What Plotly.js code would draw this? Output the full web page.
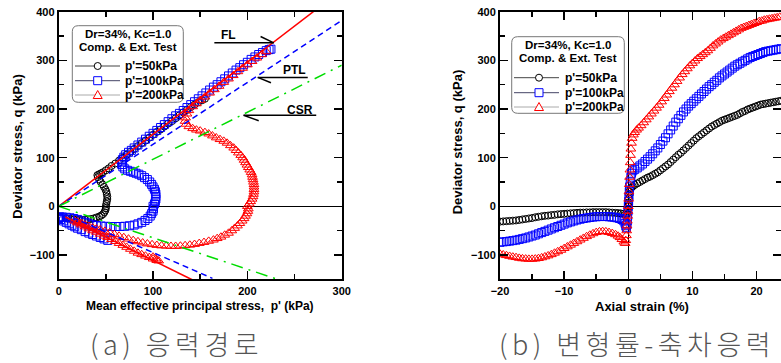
<!DOCTYPE html>
<html><head><meta charset="utf-8">
<script src="https://cdn.plot.ly/plotly-3.0.1.min.js"></script>
<style>html,body{margin:0;padding:0;background:#fff}#chart{width:781px;height:363px}</style>
</head><body><div id="chart"></div>
<script>
// ---------- (a) stress path : mean effective stress p' vs deviator stress q ----------
const p50 = [50,50.5,51,51.5,51.5,51,50.5,49.5,48,46.5, 44.5,43,41.5,41,43,45,47,50,53,56, 60,64,68,72,76,80,84,88,92,96, 100,104,108,112,116,120,124,128,132,136, 140,144,148,152,155,
  50,49.5,48.5,47,45,43,40,37,34,31, 28,25,22,19,16,13,10,8];
const q50 = [0,5,10,15,20,25,30,35,40,45, 50,55,60,64,66,68,70,74,78,83, 88,94,100,106,112,118,124,130,135,141, 147,153,158,164,170,175,181,187,193,198, 204,209,214,218,221,
  -4,-8,-12,-16,-19,-21,-23,-25,-26,-27, -27.5,-28,-28,-27.5,-27,-26,-25,-24.5];

const p100 = [100,101.5,102.5,103,103,103,102.5,101.5,100,98.5, 96.5,94,91,88,85,82,79,76,73,70, 68,67,67,67.5,69,71,74,77,80,84, 88,92,96,100,104,108,112,116,120,124, 128,132,136,140,144,148,152,156,160,164, 168,172,176,180,184,188,192,196,200,204, 208,212,216,220,223,225,
  100.5,100,98.5,97,94.5,91.5,88,84,80,75, 70,65,60,55,50,45,40,36,32,28, 24,20,16,12,8,4,1,0,0,2, 5,8,11,14,17,20,24,28,32,36, 40,44,48,52];
const q100 = [0,5,10,15,20,25,30,35,40,45, 50,55,59,63,66,68,70,72,74,77, 81,86,91,96,101,106,111,115,120,126, 132,138,144,150,156,162,168,174,180,186, 191,197,203,209,215,221,227,233,239,245, 250,256,262,268,274,280,285,291,296,302, 307,312,316,320,322,323,
  -5,-10,-15,-20,-25,-29,-33,-36,-38.5,-40, -41,-41.5,-41.5,-41.5,-41,-40.5,-39.5,-38,-36,-33, -30,-27,-25,-23.5,-22.5,-22,-21.5,-23,-25,-27, -30,-33,-36,-39,-42,-45,-48,-52,-55,-58, -61,-64,-67,-70];

const p200 = [200,202,203.5,205,206,206.5,207,207,207,207, 206.5,206,205.5,205,204,202.5,201,199.5,198,196.5, 195,193,190.5,188,185.5,182,178.5,175,171,167, 163,159,155,150,146,142,138,135,134,134.5, 136,138,142,146,150,155,160,165,170,175, 180,185,190,195,200,205,210,215,220,
  201,200.5,199.5,198,196.5,194.5,192,189.5,186.5,183.5, 180,176,172,168,164,159,154,149,144,139, 134,129,124,119,114,109,104,99,94,89, 84,79,74,69,64,59,54,49,44,40, 36,32,28,24,20,17,20,24,28,32, 36,40,44,48,52,56,60,64,68,72, 76,80,84,88,92,96,100,104,106,103, 100];
const q200 = [0,5,10,15,20,25,30,35,40,45, 50,55,60,65,70,75,80,85,90,95, 100,105,110,115,120,125,130,134,137.5,141, 145,149,152,155,157,160,164,169,175,182, 190,197,205,211,218,225,233,240,247,255, 262,269,277,284,291,298,305,312,318,
  -5,-10,-15,-20,-25,-30,-35,-40,-45,-50, -55,-59,-63,-66,-69,-71.5,-74,-76,-78,-79.5, -80.5,-81.5,-82,-82,-81.5,-81,-80,-78.5,-77,-75, -72.5,-70,-67,-64,-61,-57.5,-54,-51,-48,-46, -44,-41,-38,-35,-32,-30,-34,-38,-42,-46, -50,-53,-57,-61,-64,-68,-72,-76,-80,-84, -88,-92,-96,-99,-102,-105,-108,-111,-112,-108, -104];

// reference lines (compression branch / extension branch)
const flCompP = [0,270],  flCompQ = [0,400];
const flExtP  = [7,141.5], flExtQ = [-22,-151];
const ptlCompP = [0,300], ptlCompQ = [0,382];
const ptlExtP  = [5,163], ptlExtQ = [-15,-148];
const csrCompP = [0,300], csrCompQ = [0,290];
const csrExtP  = [0,232], csrExtQ = [0,-150];

// ---------- (b) axial strain vs deviator stress ----------
const eps50 = [0,0.05,0.1,0.15,0.2,0.3,0.45,0.7,1.0,1.4, 1.8,2.2,2.6,3.0,3.4,3.8,4.2,4.6,5.0,5.4, 5.8,6.2,6.6,7.0,7.4,7.8,8.2,8.6,9.0,9.4, 9.8,10.2,10.6,11.0,11.4,11.8,12.2,12.6,13.0,13.4, 13.8,14.2,14.6,15.0,15.4,15.8,16.2,16.6,17.0,17.4, 17.8,18.2,18.6,19.0,19.4,19.8,20.2,20.6,21.0,21.4, 21.8,22.2,22.6,23.0,23.4,23.8,
  -0.05,-0.1,-0.2,-0.3,-0.5,-0.8,-1.2,-1.6,-2.0,-2.5, -3,-3.5,-4,-4.5,-5,-5.5,-6,-6.5,-7,-7.5, -8,-8.5,-9,-9.5,-10,-10.5,-11,-11.5,-12,-12.5, -13,-13.5,-14,-14.5,-15,-15.5,-16,-16.5,-17,-17.5, -18,-18.5,-19,-19.5,-20];
const dev50 = [0,8,16,24,30,35,38,41,44,47, 50,53,56,59,61,64,67,70,74,78, 82,86,91,96,101,106,110,115,120,125, 130,135,140,144,148,152,156,160,164,167, 170,173,176,178,180,182,184,186,188,191, 194,196,199,201,203,205,207,209,210,211, 212,213,214,215,216,217,
  -5,-10,-15,-18,-17,-15.5,-14.5,-14,-13.5,-13, -12.5,-12,-12,-12,-12,-12,-12.5,-12.5,-13,-13, -13.5,-14,-14.5,-15,-15.5,-16,-16.5,-17.5,-18,-19, -19.5,-20.5,-21.5,-22.5,-24,-25,-26,-27,-28,-29, -29.5,-30,-30.5,-31,-31.5];

const eps100 = [0,0.05,0.1,0.15,0.2,0.3,0.4,0.5,0.7,1.0, 1.4,1.8,2.2,2.6,3.0,3.4,3.8,4.2,4.6,5.0, 5.4,5.8,6.2,6.6,7.0,7.4,7.8,8.2,8.6,9.0, 9.4,9.8,10.2,10.6,11.0,11.4,11.8,12.2,12.6,13.0, 13.4,13.8,14.2,14.6,15.0,15.4,15.8,16.2,16.6,17.0, 17.4,17.8,18.2,18.6,19.0,19.4,19.8,20.2,20.6,21.0, 21.4,21.8,22.2,22.6,23.0,23.4,23.8,
  -0.05,-0.1,-0.15,-0.2,-0.3,-0.4,-0.5,-0.7,-1.0,-1.4, -1.8,-2.2,-2.6,-3.0,-3.5,-4,-4.5,-5,-5.5,-6, -6.5,-7,-7.5,-8,-8.5,-9,-9.5,-10,-10.5,-11, -11.5,-12,-12.5,-13,-13.5,-14,-14.5,-15,-15.5,-16, -16.5,-17,-17.5,-18,-18.5,-19,-19.5,-20];
const dev100 = [0,10,20,30,40,50,60,68,73,76, 79,83,87,92,97,102,108,114,120,127, 134,141,149,157,165,173,180,187,194,200, 206,211,216,221,226,231,236,241,246,250, 255,259,264,268,272,276,280,284,288,291, 294,297,300,303,306,308,310,312,314,316, 318,319,320,321,322,323,324,
  -10,-20,-30,-38,-44,-40,-35,-30,-27,-25, -23.5,-22.5,-22,-21.5,-21,-21,-21,-21.5,-22,-23, -24,-25,-26.5,-28,-30,-32,-34,-36.5,-39,-41.5, -44,-46.5,-49,-51.5,-54,-56.5,-59,-61,-63,-65, -66.5,-68,-69.5,-70.5,-71.5,-72.5,-73,-74];

const eps200 = [0,0.05,0.1,0.15,0.2,0.25,0.3,0.35,0.4,0.5, 0.6,0.8,1.0,1.3,1.6,2.0,2.4,2.8,3.2,3.6, 4.0,4.4,4.8,5.2,5.6,6.0,6.4,6.8,7.2,7.6, 8.0,8.4,8.8,9.2,9.6,10.0,10.4,10.8,11.2,11.6, 12.0,12.4,12.8,13.2,13.6,14.0,14.4,14.8,15.2,15.6, 16.0,16.4,16.8,17.2,17.6,18.0,18.4,18.8,19.2,19.6, 20.0,20.4,20.8,21.2,21.6,22.0,22.4,22.8,23.2,23.6,
  -0.05,-0.1,-0.15,-0.2,-0.25,-0.3,-0.4,-0.5,-0.7,-1.0, -1.3,-1.6,-2.0,-2.5,-3.0,-3.5,-4.0,-4.5,-5.0,-5.5, -6.0,-6.5,-7.0,-7.5,-8.0,-8.5,-9.0,-9.5,-10.0,-10.5, -11.0,-11.5,-12.0,-12.5,-13.0,-13.5,-14.0,-14.5,-15.0,-15.5, -16.0,-16.5,-17.0,-17.5,-18.0,-18.5,-19.0,-19.5,-20.0];
const dev200 = [0,15,30,45,60,75,90,105,118,130, 140,147,152,157,161,166,172,178,184,190, 196,202,208,215,222,229,236,243,250,257, 264,271,277,283,289,294,299,304,308,312, 316,320,325,330,334,338,342,345,348,351, 354,357,360,363,366,368,370,372,374,376, 378,380,381,383,384,385,386,387,388,389,
  -10,-20,-30,-40,-50,-60,-70,-76,-73,-68, -64,-61,-58,-55.5,-53.5,-52,-51.5,-52,-53.5,-56, -59,-62,-65.5,-69,-72.5,-76,-79.5,-83,-86.5,-90, -93,-96,-99,-101.5,-103.5,-105.5,-107,-108,-108.5,-108.5, -108,-107.5,-106.5,-105,-104,-102.5,-101,-99.5,-98];

// ---------- text ----------
const seriesNames = ["p'=50kPa", "p'=100kPa", "p'=200kPa"];
const legendTitle = ["Dr=34%, Kc=1.0", "Comp. & Ext. Test"];
const lineLabels = ["FL", "PTL", "CSR"];
const yTitle = "Deviator stress, q (kPa)";
const xTitleA = "Mean effective principal stress,  p' (kPa)";
const xTitleB = "Axial strain (%)";
const captions = ["(a) 응력경로", "(b) 변형률-축차응력"];

// ---------- styling ----------
const F = 'Arial, "Liberation Sans", sans-serif';
const W = 781, H = 363;
const fx = v => v / W, fy = v => 1 - v / H;
const sym = ['circle-open', 'square-open', 'triangle-up-open'];
const col = ['#000000', '#0000ff', '#ff0000'];
const msz = [7, 8, 8.5];

const traces = [];
const leftSets = [[p50, q50], [p100, q100], [p200, q200]];
const rightSets = [[eps50, dev50], [eps100, dev100], [eps200, dev200]];
leftSets.forEach((s, i) => traces.push({x: s[0], y: s[1], xaxis: 'x', yaxis: 'y', mode: 'markers', type: 'scatter',
  marker: {symbol: sym[i], size: msz[i], color: col[i], line: {width: 1, color: col[i]}}, name: seriesNames[i]}));
rightSets.forEach((s, i) => traces.push({x: s[0], y: s[1], xaxis: 'x2', yaxis: 'y2', mode: 'markers', type: 'scatter',
  marker: {symbol: sym[i], size: msz[i], color: col[i], line: {width: 1, color: col[i]}}, name: seriesNames[i]}));

const refLines = [
  [flCompP, flCompQ, '#ff0000', 'solid'], [flExtP, flExtQ, '#ff0000', 'solid'],
  [ptlCompP, ptlCompQ, '#0000ff', '6px,4px'], [ptlExtP, ptlExtQ, '#0000ff', '6px,4px'],
  [csrCompP, csrCompQ, '#00dd00', '12px,6px,2px,6px'], [csrExtP, csrExtQ, '#00dd00', '12px,6px,2px,6px']];
refLines.forEach(r => traces.push({x: r[0], y: r[1], xaxis: 'x', yaxis: 'y', mode: 'lines', type: 'scatter',
  line: {color: r[2], width: 1.5, dash: r[3]}, hoverinfo: 'skip'}));

function axisCommon(extra) {
  return Object.assign({
    showline: true, linecolor: 'black', linewidth: 2, mirror: 'ticks',
    ticks: 'inside', ticklen: 8, tickwidth: 1.5, tickcolor: 'black',
    showgrid: false, fixedrange: true,
    tickfont: {family: F, size: 11, color: 'black', weight: 'bold'}
  }, extra);
}

const shapes = [];
const annotations = [];
const C = {showarrow: false, xanchor: 'center', yanchor: 'middle'};

// arrows pointing at FL, PTL, CSR (data coordinates of left panel)
const arrowSegs = [
  [165, 336, 228, 336], [214, 349, 228, 336],
  [211, 265, 264, 265], [211, 265, 225, 254],
  [196, 187, 273, 187], [196, 187, 212, 176]];
arrowSegs.forEach(a => shapes.push({type: 'line', xref: 'x', yref: 'y', x0: a[0], y0: a[1], x1: a[2], y1: a[3],
  line: {color: 'black', width: 1.5}}));
const labelPos = [[180, 353], [250, 281], [256, 199]];
lineLabels.forEach((t, i) => annotations.push(Object.assign({xref: 'x', yref: 'y', x: labelPos[i][0], y: labelPos[i][1], text: t,
  font: {family: F, size: 12, color: 'black', weight: 'bold'}}, C)));

function rrect(x0, y0, x1, y1, r) {
  const X = v => fx(v).toFixed(5), Y = v => fy(v).toFixed(5);
  return `M${X(x0 + r)},${Y(y0)} L${X(x1 - r)},${Y(y0)} Q${X(x1)},${Y(y0)} ${X(x1)},${Y(y0 + r)} ` +
    `L${X(x1)},${Y(y1 - r)} Q${X(x1)},${Y(y1)} ${X(x1 - r)},${Y(y1)} L${X(x0 + r)},${Y(y1)} ` +
    `Q${X(x0)},${Y(y1)} ${X(x0)},${Y(y1 - r)} L${X(x0)},${Y(y0 + r)} Q${X(x0)},${Y(y0)} ${X(x0 + r)},${Y(y0)} Z`;
}

function legendBox(b) {
  shapes.push({type: 'path', xref: 'paper', yref: 'paper', path: rrect(b.x0, b.y0, b.x1, b.y1, 6),
    fillcolor: 'white', line: {color: '#777', width: 1}});
  const cx = (b.x0 + b.x1) / 2;
  legendTitle.forEach((t, i) => annotations.push(Object.assign({xref: 'paper', yref: 'paper', x: fx(cx), y: fy(b.ty[i]),
    text: t, borderpad: 0, font: {family: F, size: 11.5, color: 'black', weight: 'bold'}}, C)));
  const lineCol = ['#444', '#446', '#aaa'];
  b.ey.forEach((y, i) => {
    shapes.push({type: 'line', xref: 'paper', yref: 'paper', x0: fx(b.lx0), x1: fx(b.lx1), y0: fy(y), y1: fy(y),
      line: {color: lineCol[i], width: 1}});
    const base = {xref: 'paper', yref: 'paper', xsizemode: 'pixel', ysizemode: 'pixel', xanchor: fx(b.mx), yanchor: fy(y),
      fillcolor: 'white', line: {color: col[i], width: 1}};
    if (i === 0) shapes.push(Object.assign({type: 'circle', x0: -3.5, x1: 3.5, y0: -3.5, y1: 3.5}, base));
    if (i === 1) shapes.push(Object.assign({type: 'rect', x0: -4, x1: 4, y0: -4, y1: 4}, base));
    if (i === 2) shapes.push(Object.assign({type: 'path', path: 'M-4.5,-3.5 L4.5,-3.5 L0,4.5 Z'}, base));
    annotations.push({xref: 'paper', yref: 'paper', x: fx(b.tx), y: fy(y), text: seriesNames[i], showarrow: false,
      borderpad: 0, xanchor: 'left', yanchor: 'middle', font: {family: F, size: 12, color: 'black', weight: 'bold'}});
  });
}
legendBox({x0: 72.3, y0: 25.7, x1: 183.3, y1: 102.3, ty: [33.8, 47], ey: [66, 80.7, 95], lx0: 75, lx1: 120, mx: 97.7, tx: 124.3});
legendBox({x0: 511.7, y0: 36.7, x1: 624.3, y1: 113.3, ty: [44.8, 58], ey: [77.7, 92.7, 107], lx0: 514, lx1: 559, mx: 539, tx: 564.3});

// axis titles
const titleFont = {family: F, size: 13, color: 'black', weight: 'bold'};
annotations.push(Object.assign({xref: 'paper', yref: 'paper', x: fx(16.7), y: fy(146), text: yTitle, textangle: -90, font: titleFont}, C));
annotations.push(Object.assign({xref: 'paper', yref: 'paper', x: fx(458.3), y: fy(142), text: yTitle, textangle: -90, font: titleFont}, C));
annotations.push(Object.assign({xref: 'paper', yref: 'paper', x: fx(200), y: fy(306), text: xTitleA, font: {family: F, size: 12, color: 'black', weight: 'bold'}}, C));
annotations.push(Object.assign({xref: 'paper', yref: 'paper', x: fx(642), y: fy(306), text: xTitleB, font: titleFont}, C));
// captions
const capFont = {family: '"Noto Sans CJK KR", sans-serif', size: 27, color: '#555', weight: 300};
const capIndex = [annotations.length, annotations.length + 1];
annotations.push(Object.assign({xref: 'paper', yref: 'paper', x: fx(176), y: fy(343), text: captions[0], font: capFont}, C));
annotations.push(Object.assign({xref: 'paper', yref: 'paper', x: fx(637), y: fy(343), text: captions[1], font: capFont}, C));

// wider letter spacing for the Korean captions
const st = document.createElement('style');
st.textContent = capIndex.map(i => `g.annotation[data-index="${i}"] text{letter-spacing:4.5px;}`).join('\n');
document.head.appendChild(st);

const yDom = [fy(279.3), fy(11.7)];
const layout = {
  width: W, height: H, margin: {l: 0, r: 0, t: 0, b: 0, pad: 0},
  paper_bgcolor: 'white', plot_bgcolor: 'white', showlegend: false,
  xaxis: axisCommon({domain: [fx(58.7), fx(341.7)], range: [0, 300], tick0: 0, dtick: 100, zeroline: false, anchor: 'y',
    minor: {dtick: 50, ticks: 'inside', ticklen: 5, tickcolor: 'black', tickwidth: 1.5}}),
  yaxis: axisCommon({domain: yDom, range: [-150, 400], tick0: 0, dtick: 100, anchor: 'x',
    zeroline: true, zerolinecolor: 'black', zerolinewidth: 1.5,
    minor: {dtick: 50, ticks: 'inside', ticklen: 5, tickcolor: 'black', tickwidth: 1.5}}),
  xaxis2: axisCommon({domain: [fx(500), 1], range: [-20, 23.8], tick0: 0, dtick: 10, anchor: 'y2',
    zeroline: true, zerolinecolor: 'black', zerolinewidth: 1.5,
    minor: {dtick: 5, ticks: 'inside', ticklen: 5, tickcolor: 'black', tickwidth: 1.5}}),
  yaxis2: axisCommon({domain: yDom, range: [-150, 400], tick0: 0, dtick: 100, anchor: 'x2',
    zeroline: true, zerolinecolor: 'black', zerolinewidth: 1.5,
    minor: {dtick: 50, ticks: 'inside', ticklen: 5, tickcolor: 'black', tickwidth: 1.5}}),
  shapes: shapes, annotations: annotations
};

Plotly.newPlot('chart', traces, layout, {staticPlot: true, displayModeBar: false});
</script></body></html>
